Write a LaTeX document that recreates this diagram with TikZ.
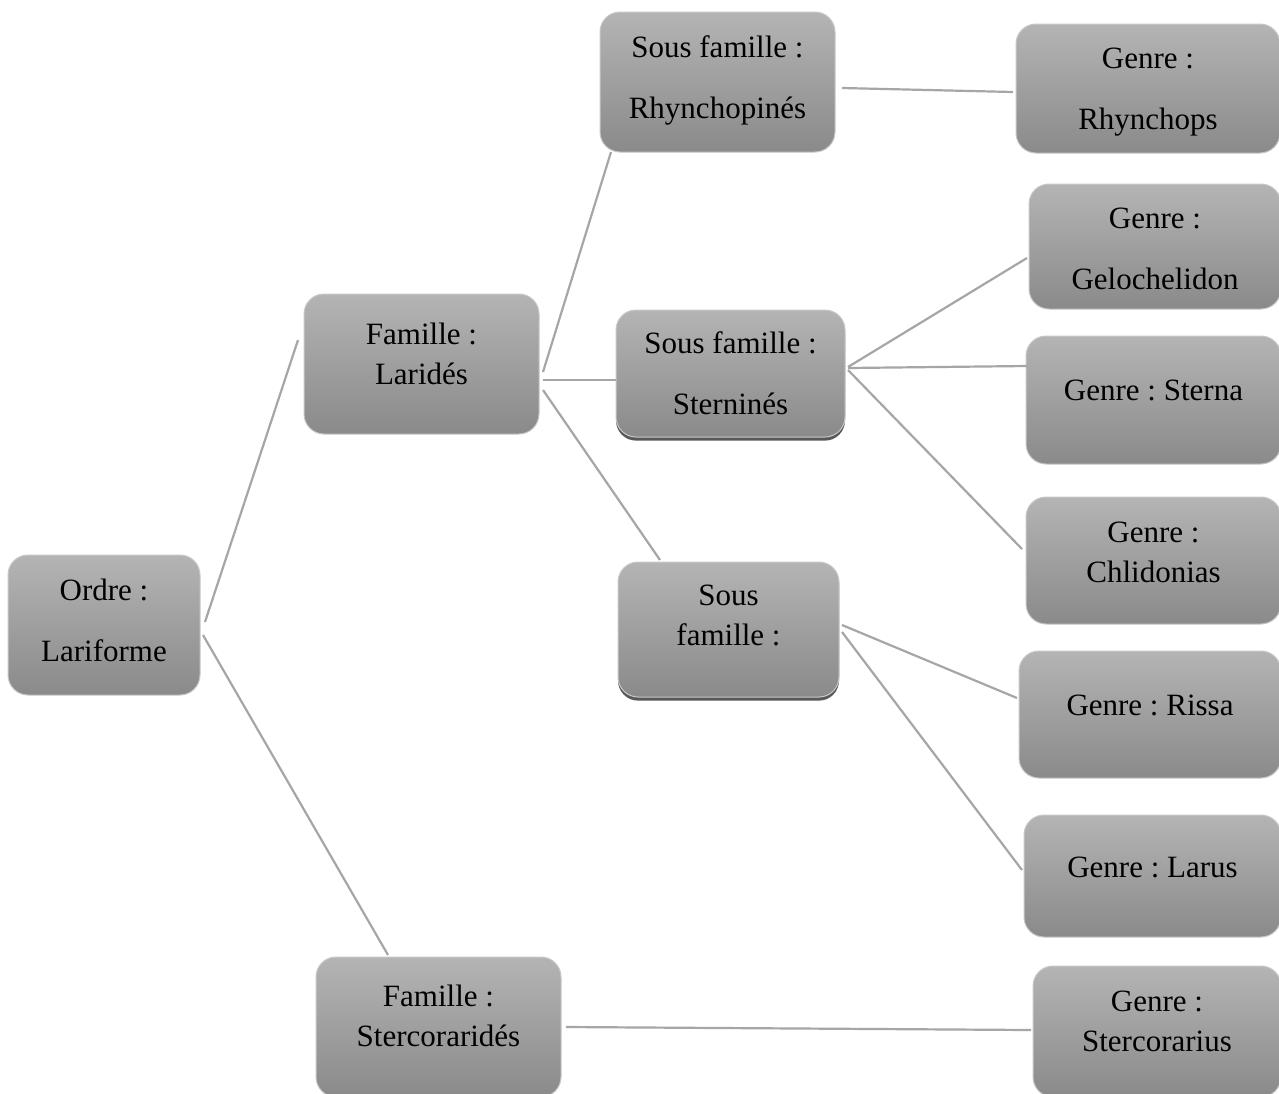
\documentclass[tikz,border=0pt]{standalone}
\usepackage{fontspec}
\setmainfont{Liberation Serif}
\frenchspacing
\usetikzlibrary{calc,shadows}
\definecolor{gtop}{RGB}{180,180,180}
\definecolor{gbot}{RGB}{138,138,138}
\definecolor{gline}{RGB}{166,166,166}
\definecolor{gedge}{RGB}{200,200,200}
\def\u{0.5pt}
\tikzset{
  box/.style={rectangle, rounded corners=10pt, top color=gtop, bottom color=gbot, draw=gedge, line width=0.5pt, inner sep=0pt},
  shad/.style={drop shadow={shadow xshift=0pt, shadow yshift=-1.8pt, fill=black!65, opacity=1}},
  dbl/.style={align=center, font=\fontsize{15.5}{30.5}\selectfont, inner sep=0pt},
  sgl/.style={align=center, font=\fontsize{15.5}{20}\selectfont, inner sep=0pt},
  conn/.style={draw=gline, line width=1.1pt}
}
\begin{document}
\begin{tikzpicture}[x=0.5pt,y=-0.5pt]
\useasboundingbox[fill=white] (0,0) rectangle (1279,1093);
% boxes
\node[box, minimum width=192*\u, minimum height=140*\u] (ord) at (104,625) {};
\node[box, minimum width=235*\u, minimum height=140*\u] (lar) at (421.5,364) {};
\node[box, minimum width=245*\u, minimum height=140*\u] (ste) at (438.5,1027) {};
\node[box, minimum width=235*\u, minimum height=140*\u] (rhy) at (717.5,82) {};
\node[box, shad, minimum width=229*\u, minimum height=127*\u] (stn) at (730.5,373.5) {};
\node[box, shad, minimum width=221*\u, minimum height=135*\u] (sf3) at (728.5,629.5) {};
\node[box, minimum width=264*\u, minimum height=129*\u] (g1) at (1148,88.5) {};
\node[box, minimum width=252*\u, minimum height=125*\u] (g2) at (1155,246.5) {};
\node[box, minimum width=255*\u, minimum height=128*\u] (g3) at (1153.5,400) {};
\node[box, minimum width=255*\u, minimum height=127*\u] (g4) at (1153.5,560.5) {};
\node[box, minimum width=262*\u, minimum height=127*\u] (g5) at (1150,714.5) {};
\node[box, minimum width=257*\u, minimum height=122*\u] (g6) at (1152.5,876) {};
\node[box, minimum width=248*\u, minimum height=131*\u] (g7) at (1157,1031.5) {};
% texts
\node[dbl] (ordt) at (104,620.5) {Ordre :\\Lariforme};
\node[sgl] (lart) at (421.5,353.5) {Famille :\\Laridés};
\node[sgl] (stet) at (438.5,1016) {Famille :\\Stercoraridés};
\node[dbl] (rhyt) at (717.5,80) {Sous famille :\\Rhynchopinés};
\node[dbl] (stnt) at (730.5,373.5) {Sous famille :\\Sterninés};
\node[sgl] (sf3t) at (728.5,615) {Sous\\famille :};
\node[dbl] (g1t) at (1148,92) {Genre :\\Rhynchops};
\node[dbl] (g2t) at (1155,249) {Genre :\\Gelochelidon};
\node[sgl] (g3t) at (1153.5,390) {Genre : Sterna};
\node[sgl] (g4t) at (1153.5,552) {Genre :\\Chlidonias};
\node[sgl] (g5t) at (1150,705) {Genre : Rissa};
\node[sgl] (g6t) at (1152.5,867) {Genre : Larus};
\node[sgl] (g7t) at (1157,1021.5) {Genre :\\Stercorarius};
% connectors
\draw[conn] ($(ord.center)+(101,-3)$) -- ($(lar.center)+(-123.5,-24)$);
\draw[conn] ($(ord.center)+(99,10)$) -- ($(ste.center)+(-50.5,-72)$);
\draw[conn] ($(lar.center)+(121.5,8)$) -- ($(rhy.center)+(-106.5,70)$);
\draw[conn] ($(lar.center)+(121.5,16)$) -- ($(stn.center)+(-114.5,6.5)$);
\draw[conn] ($(lar.center)+(121.5,26)$) -- ($(sf3.center)+(-68.5,-69.5)$);
\draw[conn] ($(rhy.center)+(124.5,6)$) -- ($(g1.center)+(-135,3.5)$);
\draw[conn] ($(stn.center)+(117.5,-6.5)$) -- ($(g2.center)+(-128,11.5)$);
\draw[conn] ($(stn.center)+(117.5,-5.5)$) -- ($(g3.center)+(-126.5,-34)$);
\draw[conn] ($(stn.center)+(117.5,-3.5)$) -- ($(g4.center)+(-131.5,-11.5)$);
\draw[conn] ($(sf3.center)+(113.5,-4.5)$) -- ($(g5.center)+(-133,-16.5)$);
\draw[conn] ($(sf3.center)+(113.5,2.5)$) -- ($(g6.center)+(-130.5,-6)$);
\draw[conn] ($(ste.center)+(127.5,0)$) -- ($(g7.center)+(-126,-1.5)$);
\end{tikzpicture}
\end{document}
